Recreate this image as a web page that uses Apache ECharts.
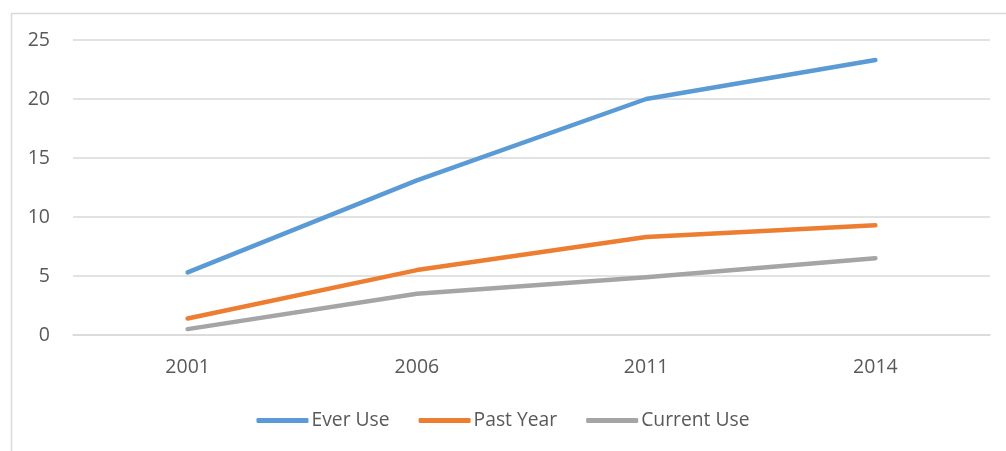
<!DOCTYPE html>
<html>
<head>
<meta charset="utf-8">
<script src="https://cdn.jsdelivr.net/npm/echarts@6/dist/echarts.min.js"></script>
<style>
html,body{margin:0;padding:0;background:#fff;}
#chart{width:1006px;height:451px;}
</style>
</head>
<body>
<div id="chart"></div>
<script>
const categories = ['2001', '2006', '2011', '2014'];
const everUse = [5.3, 13.1, 20.0, 23.3];
const pastYear = [1.4, 5.5, 8.3, 9.3];
const currentUse = [0.5, 3.5, 4.9, 6.5];
const yTicks = { min: 0, max: 25, interval: 5 };

const chart = echarts.init(document.getElementById('chart'));
const font = '"Open Sans", "Noto Sans", sans-serif';
function lineSeries(name, data, color) {
  return {
    name: name, type: 'line', data: data, symbol: 'none', smooth: false,
    lineStyle: { color: color, width: 4.5, cap: 'round', join: 'round' },
    itemStyle: { color: color }
  };
}
chart.setOption({
  animation: false,
  graphic: [{
    type: 'rect', left: 9, top: 11, silent: true,
    shape: { width: 1100, height: 500 },
    style: { fill: 'none', stroke: '#d9d9d9', lineWidth: 1.5 }
  }],
  grid: { left: 73, right: 16, top: 40, bottom: 116 },
  xAxis: {
    type: 'category', data: categories, boundaryGap: true,
    axisLine: { show: true, lineStyle: { color: '#d9d9d9', width: 1.5 } },
    axisTick: { show: false },
    axisLabel: { color: '#595959', fontSize: 19.5, fontFamily: font, margin: 22 }
  },
  yAxis: {
    type: 'value', min: yTicks.min, max: yTicks.max, interval: yTicks.interval,
    axisLine: { show: false }, axisTick: { show: false },
    splitLine: { lineStyle: { color: '#d9d9d9', width: 1.5 } },
    axisLabel: { color: '#595959', fontSize: 19.5, fontFamily: font, margin: 23 }
  },
  legend: {
    bottom: 16, left: 'center', icon: 'roundRect', itemWidth: 52, itemHeight: 5,
    itemGap: 29,
    textStyle: { color: '#595959', fontSize: 19.3, fontFamily: font, padding: [0, 0, 0, -2] },
    data: ['Ever Use', 'Past Year', 'Current Use']
  },
  series: [
    lineSeries('Ever Use', everUse, '#5b9bd5'),
    lineSeries('Past Year', pastYear, '#ed7d31'),
    lineSeries('Current Use', currentUse, '#a5a5a5')
  ]
});
</script>
</body>
</html>
